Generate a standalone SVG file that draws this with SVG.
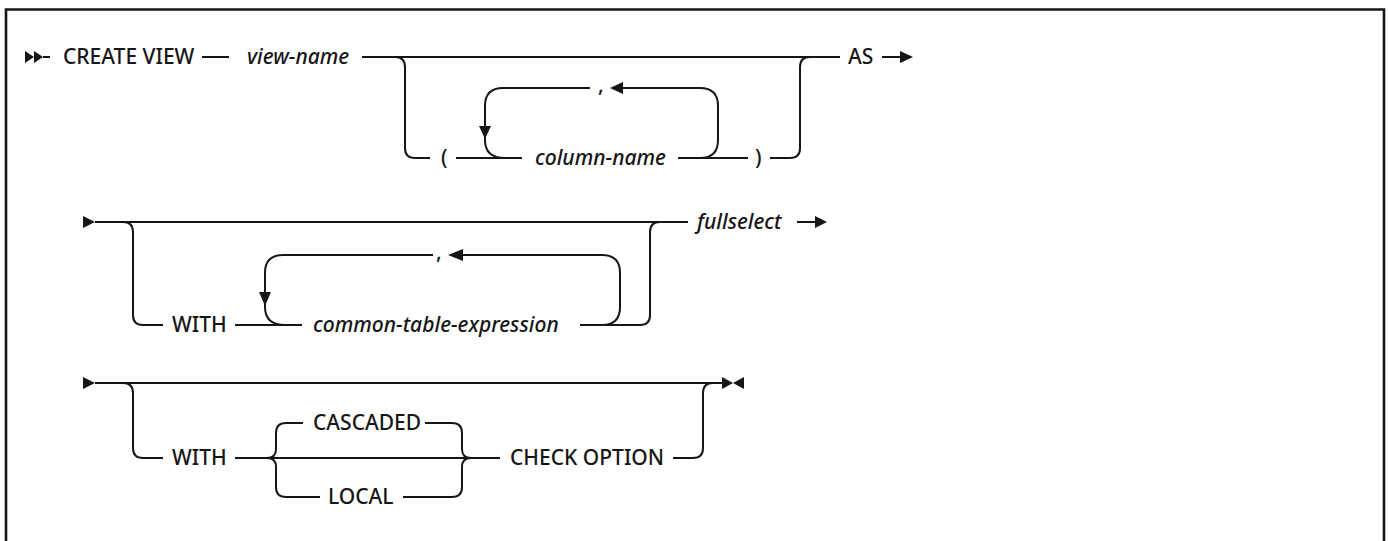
<svg xmlns="http://www.w3.org/2000/svg" width="1388" height="541" viewBox="0 0 1388 541">
<style>
.t{font-family:"Noto Sans","Liberation Sans",sans-serif;font-size:21px;font-weight:500;fill:#161616}
.i{font-style:italic}
.ln{fill:none;stroke:#161616;stroke-width:2}
.ah{fill:#161616}
</style>
<rect width="1388" height="541" fill="#fff"/>
<path d="M6,541 V9.5 H1384 V541" fill="none" stroke="#161616" stroke-width="2.6"/>
<g id="connectors">
<!-- row 1 -->
<polygon class="ah" points="25,51 34,57 25,63"/>
<polygon class="ah" points="34,51 43,57 34,63"/>
<path class="ln" d="M43,57 H50"/>
<path class="ln" d="M202,57 H229"/>
<path class="ln" d="M362,57 H840"/>
<path class="ln" d="M395,57 Q405,57 405,67 V148 Q405,158 415,158 H430"/>
<path class="ln" d="M456,158 H522"/>
<path class="ln" d="M505,158 Q485,158 485,140 V106 Q485,88 503,88 H590"/>
<polygon class="ah" points="479,126 491,126 485,139"/>
<path class="ln" d="M620,88 H700 Q718,88 718,106 V140 Q718,158 700,158"/>
<polygon class="ah" points="623,82 610,88 623,94"/>
<path class="ln" d="M678,158 H748"/>
<path class="ln" d="M770,158 H790 Q800,158 800,148 V67 Q800,57 810,57"/>
<path class="ln" d="M882,57 H902"/>
<polygon class="ah" points="900,51 913,57 900,63"/>
<!-- row 2 -->
<polygon class="ah" points="83,216 95,222 83,228"/>
<path class="ln" d="M95,222 H688"/>
<path class="ln" d="M123,222 Q133,222 133,232 V315 Q133,325 143,325 H163"/>
<path class="ln" d="M235,325 H302"/>
<path class="ln" d="M285,325 Q265,325 265,307 V273 Q265,255 283,255 H433"/>
<polygon class="ah" points="259,292 271,292 265,306"/>
<polygon class="ah" points="463,249 448,255 463,261"/>
<path class="ln" d="M460,255 H602 Q620,255 620,273 V307 Q620,325 602,325"/>
<path class="ln" d="M580,325 H640 Q650,325 650,315 V232 Q650,222 660,222"/>
<path class="ln" d="M797,222 H816"/>
<polygon class="ah" points="815,216 827,222 815,228"/>
<!-- row 3 -->
<polygon class="ah" points="83,377 95,383 83,389"/>
<path class="ln" d="M95,383 H724"/>
<path class="ln" d="M123,383 Q133,383 133,393 V448 Q133,458 143,458 H163"/>
<path class="ln" d="M235,458 H500"/>
<path class="ln" d="M267,458 Q276,458 276,449 V433 Q276,423 286,423 H303"/>
<path class="ln" d="M267,458 Q276,458 276,467 V487 Q276,497 286,497 H320"/>
<path class="ln" d="M425,423 H452 Q462,423 462,433 V449 Q462,458 471,458"/>
<path class="ln" d="M403,497 H452 Q462,497 462,487 V467 Q462,458 471,458"/>
<path class="ln" d="M673,458 H693 Q703,458 703,448 V393 Q703,383 713,383"/>
<polygon class="ah" points="722,377 733,383 722,389"/>
<polygon class="ah" points="744,377 733,383 744,389"/>
</g>
<g id="n-create-view"><text class="t" x="63" y="64">CREATE VIEW</text></g>
<g id="n-view-name"><text class="t i" x="247" y="64">view-name</text></g>
<g id="n-lparen"><text class="t" x="441" y="165">(</text></g>
<g id="n-column-name"><text class="t i" x="535" y="165">column-name</text></g>
<g id="n-comma1"><text class="t" x="598" y="92">,</text></g>
<g id="n-rparen"><text class="t" x="755" y="165">)</text></g>
<g id="n-as"><text class="t" x="848" y="64">AS</text></g>
<g id="n-with1"><text class="t" x="172" y="332">WITH</text></g>
<g id="n-cte"><text class="t i" x="313" y="332">common-table-expression</text></g>
<g id="n-comma2"><text class="t" x="436" y="259">,</text></g>
<g id="n-fullselect"><text class="t i" x="697" y="229">fullselect</text></g>
<g id="n-with2"><text class="t" x="172" y="465">WITH</text></g>
<g id="n-cascaded"><text class="t" x="313" y="430">CASCADED</text></g>
<g id="n-local"><text class="t" x="328" y="504">LOCAL</text></g>
<g id="n-check-option"><text class="t" x="510" y="465">CHECK OPTION</text></g>
</svg>
